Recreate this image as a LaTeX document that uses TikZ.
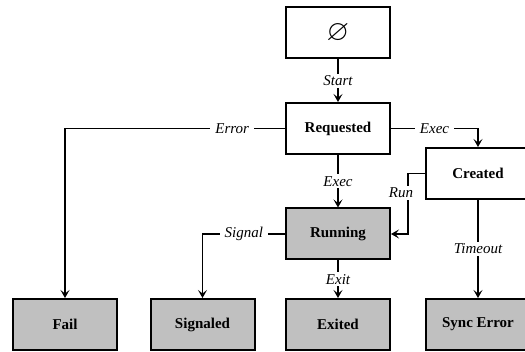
\documentclass[tikz,border=0pt]{standalone}
\usepackage{amssymb}
\usepackage{fontspec}
\setmainfont{Liberation Serif}
\usetikzlibrary{arrows.meta}
\definecolor{boxgray}{RGB}{192,192,192}
\tikzset{
  state/.style={draw=black, line width=2pt, minimum width=104pt, minimum height=51pt, fill=white,
    font=\fontsize{15}{18}\selectfont\bfseries, inner sep=0pt},
  final/.style={state, fill=boxgray},
  arr/.style={line width=1.9pt, -{Stealth[length=8pt,width=9pt,inset=3.5pt]}},
  lbl/.style={fill=white, font=\fontsize{15}{18}\selectfont\itshape, inner xsep=5pt, inner ysep=2pt},
}
\begin{document}
\begin{tikzpicture}[x=1pt,y=1pt]
\useasboundingbox (0,0) rectangle (525,352);
\clip (0,0) rectangle (525,352);
\node[state] (empty) at (338,319) {\fontsize{29}{32}\selectfont$\varnothing$};
\node[state] (req) at (338,223.5) {Requested};
\node[state] (created) at (478,178.5) {Created};
\node[final] (running) at (338,118) {Running};
\node[final] (fail) at (65,27.5) {Fail};
\node[final] (signaled) at (202.5,27.5) {Signaled};
\node[final] (exited) at (338,27.5) {Exited};
\node[final] (syncerr) at (478,27.5) {Sync Error};

\draw[arr] (empty) -- node[lbl] (lstart) {Start} (req);
\draw[arr] (req.west) -| node[lbl, pos=0.12] (lerror) {Error} (fail.north);
\draw[arr] (req.east) -| node[lbl, pos=0.25] (lexec1) {Exec} (created.north);
\draw[arr] (req) -- node[lbl] (lexec2) {Exec} (running);
\draw[arr] (created.west) -- ++(-17,0) coordinate (runc) |- node[lbl, pos=0.16, xshift=-7pt] (lrun) {Run} (running.east);
\draw[arr] (running.west) -| node[lbl, pos=0.25] (lsignal) {Signal} (signaled.north);
\draw[arr] (running) -- node[lbl] (lexit) {Exit} (exited);
\draw[arr] (created) -- node[lbl] (ltimeout) {Timeout} (syncerr);
\end{tikzpicture}
\end{document}
